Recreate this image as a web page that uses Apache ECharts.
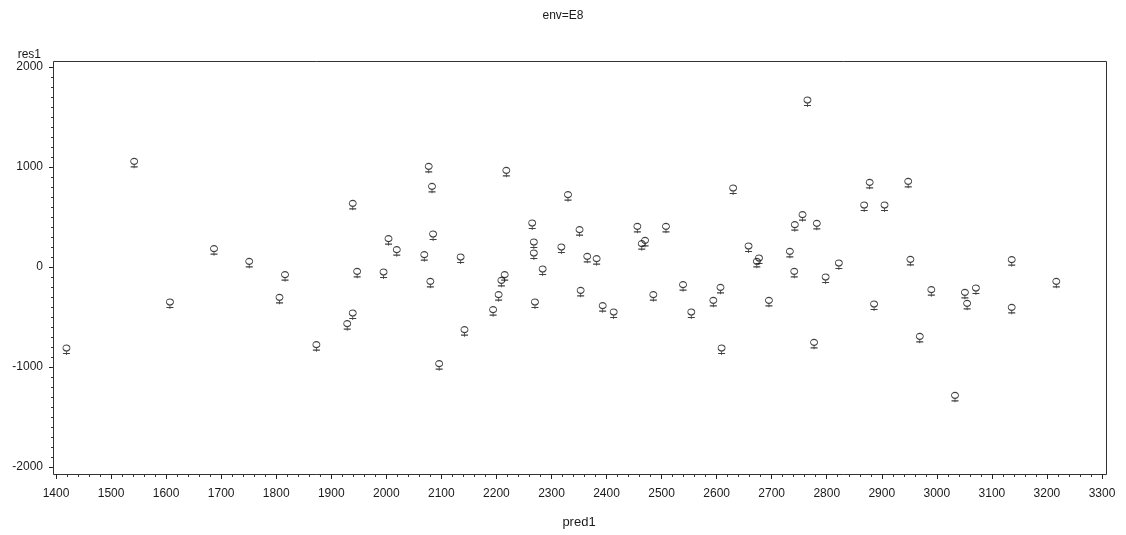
<!DOCTYPE html>
<html>
<head>
<meta charset="utf-8">
<title>env=E8</title>
<script src="https://cdn.jsdelivr.net/npm/echarts@6/dist/echarts.min.js"></script>
<style>
  html, body { margin: 0; padding: 0; background: #fff; }
  #main { width: 1126px; height: 535px; }
</style>
</head>
<body>
<div id="main"></div>
<script>
// predicted value vs residual, one pair per point
var pred1 = [1419, 1542, 1607, 1687, 1751, 1816, 1806, 1873, 1939, 1947,
  1939, 1929, 1995, 2004, 2019, 2077, 2083, 2085, 2069, 2080,
  2135, 2142, 2096, 2218, 2215, 2209, 2204, 2194, 2265, 2268,
  2268, 2270, 2284, 2330, 2318, 2351, 2353, 2365, 2382, 2393,
  2413, 2456, 2470, 2464, 2508, 2485, 2539, 2554, 2607, 2594,
  2609, 2630, 2658, 2677, 2673, 2695, 2733, 2741, 2742, 2756,
  2782, 2777, 2798, 2822, 2878, 2868, 2905, 2886, 2948, 2952,
  2969, 2990, 3033, 3051, 3055, 3071, 3136, 3136, 3217, 2765]
var res1 = [-830, 1037, -370, 163, 37, -97, -323, -797, 617, -63,
  -480, -587, -70, 263, 153, 987, 787, 310, 103, -163,
  80, -647, -987, 947, -97, -153, -297, -447, 420, 230,
  120, -370, -40, 703, 180, 353, -253, 87, 63, -407,
  -470, 387, 247, 213, 387, -297, -197, -470, -223, -353,
  -830, 770, 190, 70, 37, -353, 137, -63, 403, 503,
  417, -773, -120, 20, 827, 600, 600, -390, 837, 57,
  -713, -247, -1303, -273, -383, -230, 53, -423, -163, 1650]

var xTicks = { min: 1400, max: 3300, step: 100 }
var yTicks = { min: -2000, max: 2000, step: 1000 }

var points = []
for (var i = 0; i < pred1.length; i++) {
  points.push([pred1[i], res1[i]])
}

// female sign marker, like the SAS plot symbol
var femaleSymbol = 'path://M0.5,3 A3,3 0 1,0 6.5,3 A3,3 0 1,0 0.5,3 Z M3.5,6 L3.5,10 M0.5,8.5 L6.5,8.5'

var textColor = '#1a1a1a'
var plainNumber = function (v) { return String(v) }

var chart = echarts.init(document.getElementById('main'))
var option = {
  animation: false,
  backgroundColor: '#fff',
  title: {
    text: 'env=E8',
    left: 'center',
    top: 5,
    textStyle: { fontFamily: 'Liberation Sans', fontSize: 12, fontWeight: 'normal', color: textColor }
  },
  grid: { left: 56, right: 24, top: 67, bottom: 68 },
  graphic: [{
    type: 'rect',
    shape: { x: 53.5, y: 61.5, width: 1053, height: 413 },
    style: { fill: 'none', stroke: '#333', lineWidth: 1 },
    silent: true
  }],
  xAxis: {
    type: 'value',
    min: xTicks.min,
    max: xTicks.max,
    interval: xTicks.step,
    offset: 7,
    name: 'pred1',
    nameLocation: 'middle',
    nameGap: 42,
    nameTextStyle: { fontFamily: 'Liberation Sans', fontSize: 13, color: textColor },
    axisLine: { show: false, onZero: false },
    axisTick: { show: true, inside: false, length: 5, lineStyle: { color: '#222' } },
    minorTick: { show: true, splitNumber: 5, length: 3, lineStyle: { color: '#333' } },
    axisLabel: { margin: 14, fontFamily: 'Liberation Sans', fontSize: 12, color: textColor, formatter: plainNumber },
    splitLine: { show: false }
  },
  yAxis: {
    type: 'value',
    min: yTicks.min,
    max: yTicks.max,
    interval: yTicks.step,
    offset: 3,
    name: 'res1',
    nameLocation: 'end',
    nameGap: 6,
    nameTextStyle: { fontFamily: 'Liberation Sans', fontSize: 12, color: textColor, align: 'right', padding: [0, 12, 0, 0] },
    axisLine: { show: false, onZero: false },
    axisTick: { show: true, inside: false, length: 4, lineStyle: { color: '#222' } },
    minorTick: { show: true, splitNumber: 10, length: 2, lineStyle: { color: '#333' } },
    axisLabel: { margin: 10, fontFamily: 'Liberation Sans', fontSize: 12, color: textColor, formatter: plainNumber },
    splitLine: { show: false }
  },
  series: [{
    type: 'scatter',
    data: points,
    symbol: femaleSymbol,
    symbolSize: [7, 10],
    itemStyle: { color: 'rgba(0,0,0,0)', borderColor: '#111', borderWidth: 1 }
  }]
}
option && chart.setOption(option)
</script>
</body>
</html>
